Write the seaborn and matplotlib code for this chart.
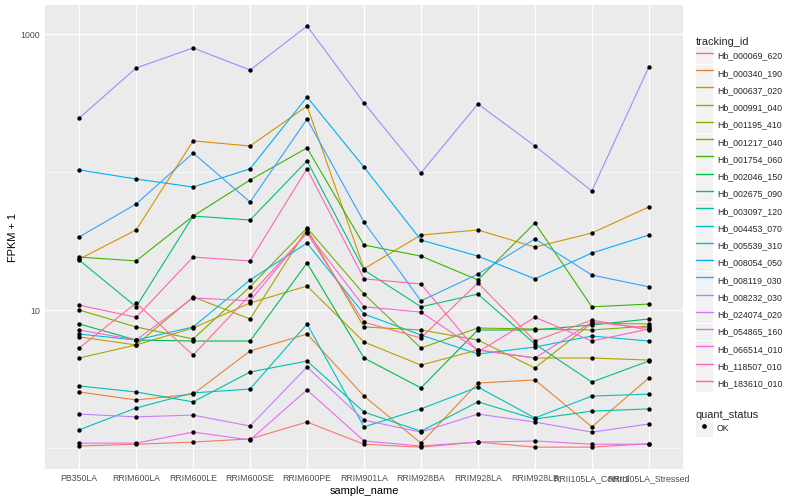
import numpy as np
import pandas as pd
import seaborn as sns
import matplotlib.pyplot as plt
from matplotlib.lines import Line2D
from matplotlib.patches import Rectangle
from matplotlib.legend_handler import HandlerLine2D
from matplotlib.ticker import FixedLocator, NullFormatter

# samples on the x axis, in plot order
samples = ["PB350LA", "RRIM600LA", "RRIM600LE", "RRIM600SE", "RRIM600PE",
           "RRIM901LA", "RRIM928BA", "RRIM928LA", "RRIM928LB",
           "RRII105LA_Control", "RRII105LA_Stressed"]

genes = ["Hb_000069_620", "Hb_000340_190", "Hb_000637_020", "Hb_000991_040",
         "Hb_001195_410", "Hb_001217_040", "Hb_001754_060", "Hb_002046_150",
         "Hb_002675_090", "Hb_003097_120", "Hb_004453_070", "Hb_005539_310",
         "Hb_008054_050", "Hb_008119_030", "Hb_008232_030", "Hb_024074_020",
         "Hb_054865_160", "Hb_066514_010", "Hb_118507_010", "Hb_183610_010"]

# ggplot default hue palette for 20 levels
hue_colors = ["#F8766D", "#EA8331", "#D89000", "#C09B00", "#A3A500", "#7CAE00",
              "#39B600", "#00BB4E", "#00BF7D", "#00C1A3", "#00BFC4", "#00BAE0",
              "#00B0F6", "#35A2FF", "#9590FF", "#C77CFF", "#E76BF3", "#FA62DB",
              "#FF62BC", "#FF6C91"]

# FPKM + 1 per gene, one value per sample
hb_000069_620 = [1.04, 1.07, 1.11, 1.17, 1.55, 1.07, 1.02, 1.11, 1.02, 1.02, 1.08]
hb_000340_190 = [2.56, 2.24, 2.47, 5.07, 6.73, 2.39, 1.09, 2.97, 3.13, 1.43, 3.23]
hb_000637_020 = [23.5, 38.2, 169, 155, 302, 20.0, 35.1, 38.2, 28.7, 36.3, 56.1]
hb_000991_040 = [6.41, 5.61, 7.44, 11.3, 15.0, 5.89, 4.01, 5.16, 4.51, 4.51, 4.36]
hb_001195_410 = [4.51, 5.61, 12.5, 8.65, 38.8, 7.57, 7.20, 6.09, 3.82, 8.09, 7.96]
hb_001217_040 = [10.05, 7.57, 6.20, 14.8, 39.5, 13.1, 5.33, 7.44, 7.32, 7.20, 7.69]
hb_001754_060 = [24.3, 22.8, 48.2, 87.9, 150, 29.7, 24.7, 16.6, 42.9, 10.6, 11.1]
hb_002046_150 = [7.96, 6.09, 5.99, 5.99, 22.0, 4.51, 2.74, 7.20, 7.20, 7.83, 8.65]
hb_002675_090 = [23.1, 10.6, 48.2, 45.1, 121, 19.6, 10.6, 13.1, 5.7, 3.02, 4.29]
hb_003097_120 = [2.83, 2.56, 2.17, 3.57, 4.29, 1.83, 1.33, 2.17, 1.63, 1.86, 1.93]
hb_004453_070 = [1.36, 1.96, 2.52, 2.69, 7.96, 1.43, 1.93, 2.78, 1.66, 2.39, 2.47]
hb_005539_310 = [6.73, 6.09, 7.57, 16.6, 30.7, 9.4, 6.62, 4.82, 5.42, 6.51, 5.99]
hb_008054_050 = [104, 89.4, 78.2, 106, 351, 109, 32.3, 24.7, 16.9, 26.0, 35.1]
hb_008119_030 = [34.0, 58.9, 138, 60.9, 243, 43.6, 11.7, 18.3, 32.9, 18.0, 14.8]
hb_008232_030 = [247, 570, 796, 551, 1148, 318, 98.9, 313, 155, 73.2, 580]
hb_024074_020 = [1.77, 1.69, 1.74, 1.45, 3.88, 1.60, 1.31, 1.77, 1.55, 1.31, 1.50]
hb_054865_160 = [1.09, 1.09, 1.31, 1.15, 2.65, 1.13, 1.04, 1.11, 1.13, 1.07, 1.07]
hb_066514_010 = [7.20, 6.09, 12.3, 11.7, 36.9, 10.6, 9.7, 5.16, 4.51, 8.2, 7.44]
hb_118507_010 = [10.9, 8.9, 24.3, 22.8, 106, 16.9, 15.5, 4.99, 8.9, 5.99, 7.32]
hb_183610_010 = [5.33, 11.3, 4.74, 12.9, 36.3, 8.2, 6.30, 15.8, 5.99, 8.5, 7.20]

fpkm = [hb_000069_620, hb_000340_190, hb_000637_020, hb_000991_040,
        hb_001195_410, hb_001217_040, hb_001754_060, hb_002046_150,
        hb_002675_090, hb_003097_120, hb_004453_070, hb_005539_310,
        hb_008054_050, hb_008119_030, hb_008232_030, hb_024074_020,
        hb_054865_160, hb_066514_010, hb_118507_010, hb_183610_010]

rows = []
for gene, vals in zip(genes, fpkm):
    for s, v in zip(samples, vals):
        rows.append({"tracking_id": gene, "sample_name": s, "fpkm": v, "quant_status": "OK"})
df = pd.DataFrame(rows)
palette = dict(zip(genes, hue_colors))

sns.set_theme(style="darkgrid")
plt.rcParams["font.family"] = ["Liberation Sans", "DejaVu Sans"]

fig = plt.figure(figsize=(8, 5), dpi=100)
ax = fig.add_axes([45 / 800, 31 / 500, 638 / 800, 464 / 500])
ax.set_facecolor("#EBEBEB")

sns.lineplot(data=df, x="sample_name", y="fpkm", hue="tracking_id",
             palette=palette, linewidth=0.8, sort=False, legend=False, ax=ax)
sns.scatterplot(data=df, x="sample_name", y="fpkm", color="black", s=10,
                linewidth=0, legend=False, ax=ax, zorder=3)

ax.set_yscale("log")
ax.set_ylim(0.708, 1630)
ax.set_xlim(-0.6, len(samples) - 0.4)
ax.yaxis.set_major_locator(FixedLocator([10, 1000]))
ax.set_yticklabels(["10", "1000"])
ax.yaxis.set_minor_locator(FixedLocator([1, 100]))
ax.yaxis.set_minor_formatter(NullFormatter())

ax.grid(which="major", color="white", linewidth=0.8)
ax.grid(which="minor", axis="y", color="white", linewidth=0.4)
for sp in ax.spines.values():
    sp.set_visible(False)
ax.tick_params(which="major", length=2, width=0.5, color="#333333",
               labelsize=6.3, labelcolor="#4D4D4D", pad=1.5)
ax.tick_params(which="minor", length=0)

ax.set_xlabel("sample_name", fontsize=7.9, color="black", labelpad=2)
ax.set_ylabel("FPKM + 1", fontsize=7.9, color="black", labelpad=2)


class KeyBox(HandlerLine2D):
    # grey ggplot-style key square behind each legend line
    def create_artists(self, legend, orig_handle, xdescent, ydescent,
                       width, height, fontsize, trans):
        box = Rectangle((-xdescent, -ydescent), width, height,
                        facecolor="#F2F2F2", edgecolor="none", transform=trans)
        arts = super().create_artists(legend, orig_handle, xdescent, ydescent,
                                      width, height, fontsize, trans)
        return [box] + list(arts)


gene_handles = [Line2D([], [], color=c, linewidth=1.0) for c in hue_colors]
leg_opts = dict(loc="upper left", frameon=False, fontsize=6.3,
                title_fontsize=7.9, alignment="left", borderpad=0,
                borderaxespad=0, handlelength=1.94, handleheight=2.58,
                labelspacing=0.05, handletextpad=0.46)
fig.legend(gene_handles, genes, title="tracking_id",
           bbox_to_anchor=(696 / 800, 1 - 37 / 500),
           handler_map={Line2D: KeyBox()}, **leg_opts)

ok_handle = Line2D([], [], marker="o", color="black", linestyle="none",
                   markersize=2.4)
fig.legend([ok_handle], ["OK"], title="quant_status",
           bbox_to_anchor=(696 / 800, 1 - 410 / 500),
           handler_map={Line2D: KeyBox()}, **leg_opts)

fig.savefig("out.png", dpi=100, facecolor="white")
